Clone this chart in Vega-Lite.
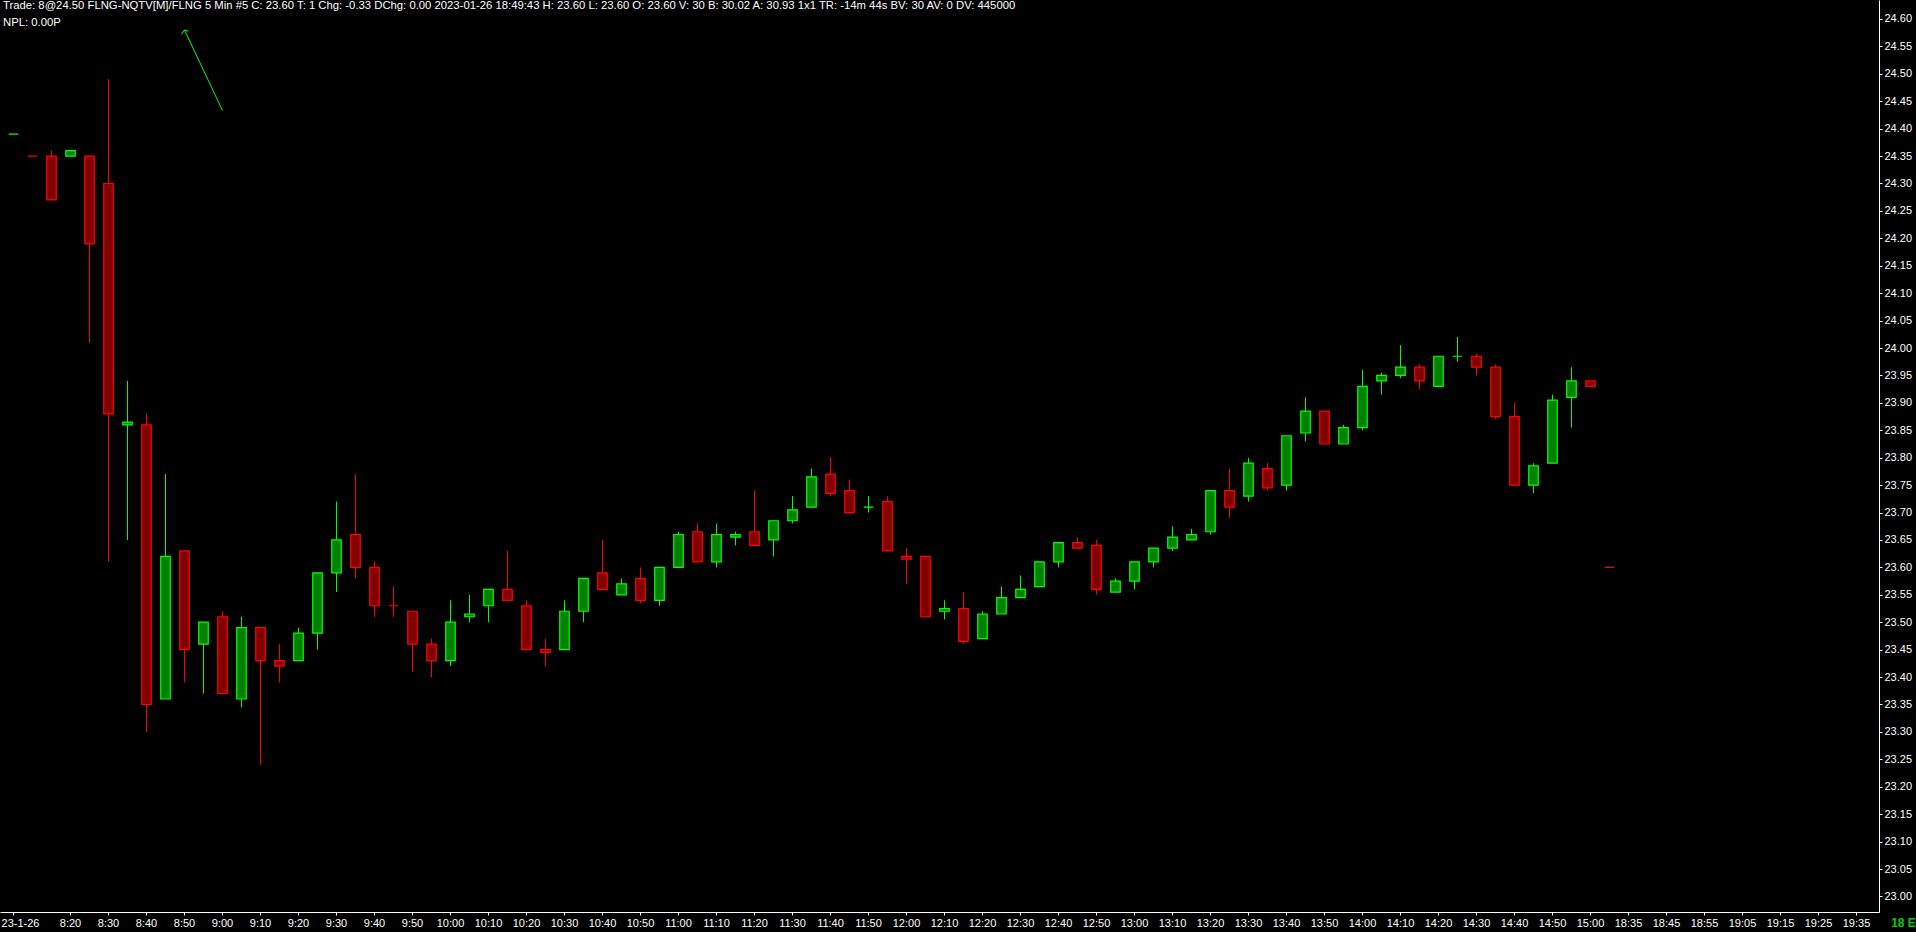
{
  "$schema": "https://vega.github.io/schema/vega-lite/v6.json",
  "width": 1879,
  "height": 912,
  "autosize": {"type": "none"},
  "padding": {"left": 0, "top": 0, "right": 37, "bottom": 20},
  "background": "#000000",
  "config": {
    "view": {"stroke": null},
    "axis": {"labelOverlap": false},
    "axisY": {"labelOverlap": false},
    "axisQuantitative": {"labelOverlap": false}
  },
  "title": {
    "text": "Trade: 8@24.50  FLNG-NQTV[M]/FLNG  5 Min   #5 C: 23.60 T: 1 Chg: -0.33 DChg: 0.00 2023-01-26 18:49:43 H: 23.60 L: 23.60 O: 23.60 V: 30 B: 30.02 A: 30.93 1x1 TR: -14m 44s BV: 30 AV: 0 DV: 445000",
    "subtitle": "NPL: 0.00P",
    "anchor": "start",
    "frame": "group",
    "orient": "top",
    "offset": -28,
    "dx": 3,
    "color": "#FFFFFF",
    "font": "Liberation Sans",
    "fontSize": 11.3,
    "fontWeight": "normal",
    "subtitleColor": "#FFFFFF",
    "subtitleFont": "Liberation Sans",
    "subtitleFontSize": 11.3,
    "subtitlePadding": 5
  },
  "datasets": {
    "bars": [
      {"t":"8:05","o":24.39,"h":24.39,"l":24.39,"c":24.39,"d":"u"},
      {"t":"8:10","o":24.35,"h":24.35,"l":24.35,"c":24.35,"d":"d"},
      {"t":"8:15","o":24.35,"h":24.36,"l":24.27,"c":24.27,"d":"d"},
      {"t":"8:20","o":24.35,"h":24.36,"l":24.35,"c":24.36,"d":"u"},
      {"t":"8:25","o":24.35,"h":24.35,"l":24.01,"c":24.19,"d":"d"},
      {"t":"8:30","o":24.30,"h":24.49,"l":23.61,"c":23.88,"d":"d"},
      {"t":"8:35","o":23.86,"h":23.94,"l":23.65,"c":23.865,"d":"u"},
      {"t":"8:40","o":23.86,"h":23.88,"l":23.30,"c":23.35,"d":"d"},
      {"t":"8:45","o":23.36,"h":23.77,"l":23.36,"c":23.62,"d":"u"},
      {"t":"8:50","o":23.63,"h":23.63,"l":23.39,"c":23.45,"d":"d"},
      {"t":"8:55","o":23.46,"h":23.50,"l":23.37,"c":23.50,"d":"u"},
      {"t":"9:00","o":23.51,"h":23.52,"l":23.37,"c":23.37,"d":"d"},
      {"t":"9:05","o":23.36,"h":23.51,"l":23.345,"c":23.49,"d":"u"},
      {"t":"9:10","o":23.49,"h":23.49,"l":23.24,"c":23.43,"d":"d"},
      {"t":"9:15","o":23.43,"h":23.46,"l":23.39,"c":23.42,"d":"d"},
      {"t":"9:20","o":23.43,"h":23.49,"l":23.43,"c":23.48,"d":"u"},
      {"t":"9:25","o":23.48,"h":23.59,"l":23.45,"c":23.59,"d":"u"},
      {"t":"9:30","o":23.59,"h":23.72,"l":23.555,"c":23.65,"d":"u"},
      {"t":"9:35","o":23.66,"h":23.77,"l":23.58,"c":23.60,"d":"d"},
      {"t":"9:40","o":23.60,"h":23.61,"l":23.51,"c":23.53,"d":"d"},
      {"t":"9:45","o":23.53,"h":23.565,"l":23.51,"c":23.53,"d":"d"},
      {"t":"9:50","o":23.52,"h":23.52,"l":23.41,"c":23.46,"d":"d"},
      {"t":"9:55","o":23.46,"h":23.47,"l":23.40,"c":23.43,"d":"d"},
      {"t":"10:00","o":23.43,"h":23.54,"l":23.42,"c":23.50,"d":"u"},
      {"t":"10:05","o":23.51,"h":23.55,"l":23.50,"c":23.515,"d":"u"},
      {"t":"10:10","o":23.53,"h":23.56,"l":23.50,"c":23.56,"d":"u"},
      {"t":"10:15","o":23.56,"h":23.63,"l":23.54,"c":23.54,"d":"d"},
      {"t":"10:20","o":23.53,"h":23.54,"l":23.45,"c":23.45,"d":"d"},
      {"t":"10:25","o":23.45,"h":23.47,"l":23.42,"c":23.445,"d":"d"},
      {"t":"10:30","o":23.45,"h":23.54,"l":23.45,"c":23.52,"d":"u"},
      {"t":"10:35","o":23.52,"h":23.58,"l":23.50,"c":23.58,"d":"u"},
      {"t":"10:40","o":23.59,"h":23.65,"l":23.56,"c":23.56,"d":"d"},
      {"t":"10:45","o":23.55,"h":23.58,"l":23.55,"c":23.57,"d":"u"},
      {"t":"10:50","o":23.58,"h":23.60,"l":23.535,"c":23.54,"d":"d"},
      {"t":"10:55","o":23.54,"h":23.60,"l":23.53,"c":23.60,"d":"u"},
      {"t":"11:00","o":23.60,"h":23.665,"l":23.60,"c":23.66,"d":"u"},
      {"t":"11:05","o":23.665,"h":23.68,"l":23.61,"c":23.61,"d":"d"},
      {"t":"11:10","o":23.61,"h":23.68,"l":23.60,"c":23.66,"d":"u"},
      {"t":"11:15","o":23.655,"h":23.665,"l":23.64,"c":23.66,"d":"u"},
      {"t":"11:20","o":23.665,"h":23.74,"l":23.64,"c":23.64,"d":"d"},
      {"t":"11:25","o":23.65,"h":23.685,"l":23.62,"c":23.685,"d":"u"},
      {"t":"11:30","o":23.685,"h":23.73,"l":23.68,"c":23.705,"d":"u"},
      {"t":"11:35","o":23.71,"h":23.78,"l":23.71,"c":23.765,"d":"u"},
      {"t":"11:40","o":23.77,"h":23.80,"l":23.73,"c":23.735,"d":"d"},
      {"t":"11:45","o":23.74,"h":23.76,"l":23.70,"c":23.70,"d":"d"},
      {"t":"11:50","o":23.71,"h":23.73,"l":23.70,"c":23.71,"d":"u"},
      {"t":"11:55","o":23.72,"h":23.73,"l":23.63,"c":23.63,"d":"d"},
      {"t":"12:00","o":23.62,"h":23.635,"l":23.57,"c":23.615,"d":"d"},
      {"t":"12:05","o":23.62,"h":23.62,"l":23.51,"c":23.51,"d":"d"},
      {"t":"12:10","o":23.52,"h":23.54,"l":23.505,"c":23.525,"d":"u"},
      {"t":"12:15","o":23.525,"h":23.555,"l":23.46,"c":23.465,"d":"d"},
      {"t":"12:20","o":23.47,"h":23.52,"l":23.47,"c":23.515,"d":"u"},
      {"t":"12:25","o":23.515,"h":23.565,"l":23.515,"c":23.545,"d":"u"},
      {"t":"12:30","o":23.545,"h":23.585,"l":23.545,"c":23.56,"d":"u"},
      {"t":"12:35","o":23.565,"h":23.61,"l":23.565,"c":23.61,"d":"u"},
      {"t":"12:40","o":23.61,"h":23.645,"l":23.60,"c":23.645,"d":"u"},
      {"t":"12:45","o":23.645,"h":23.655,"l":23.635,"c":23.635,"d":"d"},
      {"t":"12:50","o":23.64,"h":23.65,"l":23.55,"c":23.56,"d":"d"},
      {"t":"12:55","o":23.555,"h":23.58,"l":23.555,"c":23.575,"d":"u"},
      {"t":"13:00","o":23.575,"h":23.61,"l":23.56,"c":23.61,"d":"u"},
      {"t":"13:05","o":23.61,"h":23.635,"l":23.60,"c":23.635,"d":"u"},
      {"t":"13:10","o":23.635,"h":23.675,"l":23.63,"c":23.655,"d":"u"},
      {"t":"13:15","o":23.65,"h":23.67,"l":23.65,"c":23.66,"d":"u"},
      {"t":"13:20","o":23.665,"h":23.74,"l":23.66,"c":23.74,"d":"u"},
      {"t":"13:25","o":23.74,"h":23.78,"l":23.69,"c":23.71,"d":"d"},
      {"t":"13:30","o":23.73,"h":23.80,"l":23.72,"c":23.79,"d":"u"},
      {"t":"13:35","o":23.78,"h":23.79,"l":23.74,"c":23.745,"d":"d"},
      {"t":"13:40","o":23.75,"h":23.84,"l":23.74,"c":23.84,"d":"u"},
      {"t":"13:45","o":23.845,"h":23.91,"l":23.83,"c":23.885,"d":"u"},
      {"t":"13:50","o":23.885,"h":23.885,"l":23.825,"c":23.825,"d":"d"},
      {"t":"13:55","o":23.825,"h":23.86,"l":23.825,"c":23.855,"d":"u"},
      {"t":"14:00","o":23.855,"h":23.96,"l":23.85,"c":23.93,"d":"u"},
      {"t":"14:05","o":23.94,"h":23.955,"l":23.915,"c":23.95,"d":"u"},
      {"t":"14:10","o":23.95,"h":24.005,"l":23.945,"c":23.965,"d":"u"},
      {"t":"14:15","o":23.965,"h":23.97,"l":23.925,"c":23.94,"d":"d"},
      {"t":"14:20","o":23.93,"h":23.985,"l":23.93,"c":23.985,"d":"u"},
      {"t":"14:25","o":23.985,"h":24.02,"l":23.975,"c":23.985,"d":"u"},
      {"t":"14:30","o":23.985,"h":23.99,"l":23.95,"c":23.965,"d":"d"},
      {"t":"14:35","o":23.965,"h":23.97,"l":23.87,"c":23.875,"d":"d"},
      {"t":"14:40","o":23.875,"h":23.90,"l":23.75,"c":23.75,"d":"d"},
      {"t":"14:45","o":23.75,"h":23.79,"l":23.735,"c":23.785,"d":"u"},
      {"t":"14:50","o":23.79,"h":23.915,"l":23.79,"c":23.905,"d":"u"},
      {"t":"14:55","o":23.91,"h":23.965,"l":23.855,"c":23.94,"d":"u"},
      {"t":"15:00","o":23.94,"h":23.94,"l":23.93,"c":23.93,"d":"d"},
      {"t":"18:30","o":23.60,"h":23.60,"l":23.60,"c":23.60,"d":"d"}
    ],
    "arrow": [
      {"t":"8:50","p":24.58,"tip":true},
      {"t":"9:00","p":24.433,"tip":false}
    ]
  },
  "encoding": {
    "x": {
      "field": "t",
      "type": "ordinal",
      "scale": {
        "domain": ["8:05","8:10","8:15","8:20","8:25","8:30","8:35","8:40","8:45","8:50","8:55","9:00","9:05","9:10","9:15","9:20","9:25","9:30","9:35","9:40","9:45","9:50","9:55","10:00","10:05","10:10","10:15","10:20","10:25","10:30","10:35","10:40","10:45","10:50","10:55","11:00","11:05","11:10","11:15","11:20","11:25","11:30","11:35","11:40","11:45","11:50","11:55","12:00","12:05","12:10","12:15","12:20","12:25","12:30","12:35","12:40","12:45","12:50","12:55","13:00","13:05","13:10","13:15","13:20","13:25","13:30","13:35","13:40","13:45","13:50","13:55","14:00","14:05","14:10","14:15","14:20","14:25","14:30","14:35","14:40","14:45","14:50","14:55","15:00","18:30","18:35","18:40","18:45","18:50","18:55","19:00","19:05","19:10","19:15","19:20","19:25","19:30","19:35"],
        "paddingInner": 0,
        "paddingOuter": 0.4474,
        "align": 0.235
      },
      "axis": {
        "orient": "bottom",
        "title": null,
        "values": ["8:05","8:20","8:30","8:40","8:50","9:00","9:10","9:20","9:30","9:40","9:50","10:00","10:10","10:20","10:30","10:40","10:50","11:00","11:10","11:20","11:30","11:40","11:50","12:00","12:10","12:20","12:30","12:40","12:50","13:00","13:10","13:20","13:30","13:40","13:50","14:00","14:10","14:20","14:30","14:40","14:50","15:00","18:35","18:45","18:55","19:05","19:15","19:25","19:35"],
        "labelExpr": "datum.value == '8:05' ? '23-1-26' : datum.value",
        "labelOffset": {"condition": {"test": "datum.value == '8:05'", "value": 7}, "value": 0},
        "bandPosition": 0.5,
        "labelAngle": 0,
        "labelOverlap": false,
        "labelColor": "#FFFFFF",
        "labelFont": "Liberation Sans",
        "labelFontSize": 11,
        "labelPadding": 2,
        "tickColor": "#FFFFFF",
        "tickSize": 3,
        "domainColor": "#FFFFFF",
        "grid": false
      }
    },
    "y": {
      "field": "l",
      "type": "quantitative",
      "scale": {"domain": [22.9716, 24.6346], "nice": false, "zero": false},
      "axis": {
        "orient": "right",
        "values": [23.00,23.05,23.10,23.15,23.20,23.25,23.30,23.35,23.40,23.45,23.50,23.55,23.60,23.65,23.70,23.75,23.80,23.85,23.90,23.95,24.00,24.05,24.10,24.15,24.20,24.25,24.30,24.35,24.40,24.45,24.50,24.55,24.60],
        "format": ".2f",
        "labelOverlap": false,
        "labelColor": "#FFFFFF",
        "labelFont": "Liberation Sans",
        "labelFontSize": 11,
        "labelPadding": 2,
        "tickColor": "#FFFFFF",
        "tickSize": 3,
        "domainColor": "#FFFFFF",
        "grid": false,
        "title": "18 E",
        "titleAngle": 0,
        "titleX": 24,
        "titleY": 922,
        "titleAlign": "center",
        "titleBaseline": "middle",
        "titleColor": "#00D000",
        "titleFont": "Liberation Sans",
        "titleFontSize": 12,
        "titleFontWeight": "bold"
      }
    }
  },
  "layer": [
    {
      "data": {"name": "bars"},
      "mark": {"type": "rule", "strokeWidth": 1},
      "encoding": {
        "y2": {"field": "h"},
        "stroke": {
          "field": "d",
          "type": "nominal",
          "scale": {"domain": ["u", "d"], "range": ["#00FF00", "#FF0000"]},
          "legend": null
        }
      }
    },
    {
      "data": {"name": "bars"},
      "mark": {"type": "bar", "width": {"band": 0.5}, "strokeWidth": 1.2},
      "encoding": {
        "y": {"field": "o", "type": "quantitative"},
        "y2": {"field": "c"},
        "stroke": {"field": "d", "type": "nominal", "legend": null},
        "fill": {
          "field": "d",
          "type": "nominal",
          "scale": {"domain": ["u", "d"], "range": ["#008000", "#800000"]},
          "legend": null
        }
      }
    },
    {
      "data": {"name": "arrow"},
      "mark": {"type": "line", "color": "#00FF00", "strokeWidth": 1},
      "encoding": {
        "y": {"field": "p", "type": "quantitative"}
      }
    },
    {
      "data": {"name": "arrow"},
      "transform": [{"filter": "datum.tip"}],
      "mark": {"type": "point", "shape": "M-0.75,1.07L0,0L1,0.33", "filled": false, "color": "#00FF00", "strokeWidth": 1, "size": 64, "opacity": 1},
      "encoding": {
        "y": {"field": "p", "type": "quantitative"}
      }
    }
  ]
}
